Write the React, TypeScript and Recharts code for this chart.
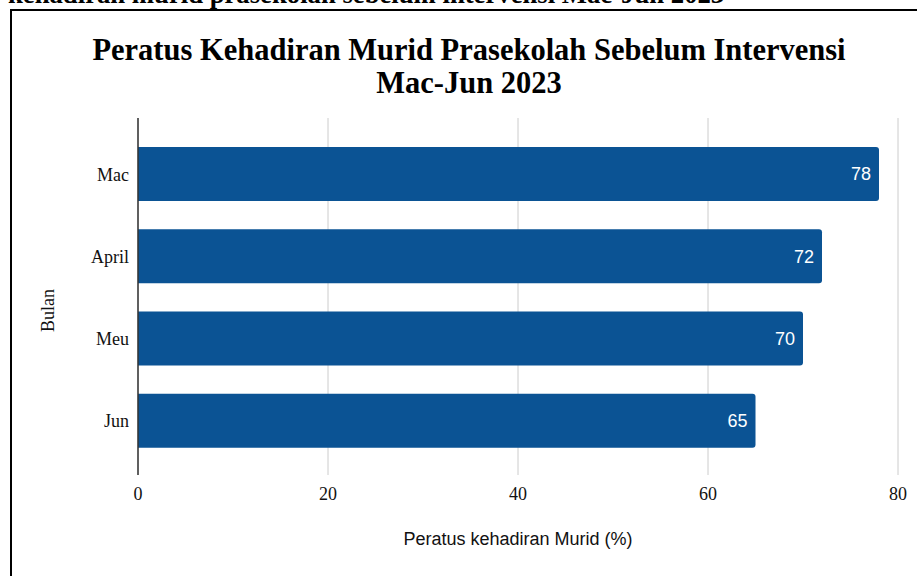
import React from "react"
import { Bar, BarChart, CartesianGrid, Label, LabelList, XAxis, YAxis } from "recharts"

const months = ["Mac", "April", "Meu", "Jun"]
const attendance = [78, 72, 70, 65]
const xTicks = [0, 20, 40, 60, 80]

const data = months.map((month, i) => ({ month, value: attendance[i] }))

const SERIF = "'Liberation Serif', 'Times New Roman', serif"
const SANS = "'Liberation Sans', Arial, sans-serif"

export default function App() {
  return (
    <div style={{ position: "absolute", left: 0, top: 0, width: 917, height: 576, overflow: "hidden", background: "#fff" }}>
      {/* caption cut off at top of the screenshot */}
      <svg width={917} height={20} style={{ position: "absolute", left: 0, top: 0 }}>
        <text x={8} y={3} fontFamily={SERIF} fontWeight="bold" fontSize={26.7} fill="#000">
          kehadiran murid prasekolah sebelum intervensi Mac-Jun 2023
        </text>
      </svg>
      <div
        style={{
          position: "absolute",
          left: 10,
          top: 9,
          width: 940,
          height: 600,
          border: "2px solid #000",
          boxSizing: "border-box",
        }}
      />
      <div
        style={{
          position: "absolute",
          left: 69,
          top: 34,
          width: 800,
          textAlign: "center",
          fontFamily: SERIF,
          fontWeight: "bold",
          fontSize: 30.5,
          lineHeight: "33px",
          color: "#000",
        }}
      >
        Peratus Kehadiran Murid Prasekolah Sebelum Intervensi
        <br />
        Mac-Jun 2023
      </div>
      <div style={{ position: "absolute", left: 0, top: 0 }}>
        <BarChart
          width={917}
          height={576}
          data={data}
          layout="vertical"
          margin={{ top: 118, right: 19, bottom: 31, left: 48 }}
        >
          <CartesianGrid horizontal={false} stroke="#cccccc" />
          <XAxis
            type="number"
            domain={[0, 80]}
            ticks={xTicks}
            axisLine={false}
            tickLine={false}
            tickSize={0}
            tickMargin={12}
            height={70}
            tick={{ fontFamily: SERIF, fontSize: 18, fill: "#111" }}
          >
            <Label
              value="Peratus kehadiran Murid (%)"
              position="insideBottom"
              offset={0}
              style={{ fontFamily: SANS, fontSize: 18, fill: "#111" }}
            />
          </XAxis>
          <YAxis
            type="category"
            dataKey="month"
            width={90}
            padding={{ top: 15, bottom: 13 }}
            axisLine={{ stroke: "#333", strokeWidth: 1.5 }}
            tickLine={false}
            tickSize={0}
            tickMargin={9}
            tick={{ fontFamily: SERIF, fontSize: 18, fill: "#111" }}
          >
            <Label
              content={({ viewBox }: any) => {
                const cx = viewBox.x
                const cy = viewBox.y + viewBox.height / 2 + 14
                return (
                  <text
                    x={cx}
                    y={cy}
                    transform={`rotate(-90 ${cx} ${cy})`}
                    textAnchor="middle"
                    dominantBaseline="central"
                    fontFamily={SERIF}
                    fontSize={18}
                    fill="#111"
                  >
                    Bulan
                  </text>
                )
              }}
            />
          </YAxis>
          <Bar dataKey="value" fill="#0b5394" barSize={54} radius={[0, 3, 3, 0]} isAnimationActive={false}>
            <LabelList
              dataKey="value"
              position="insideRight"
              offset={8}
              fill="#fff"
              style={{ fontFamily: SANS, fontSize: 18 }}
            />
          </Bar>
        </BarChart>
      </div>
    </div>
  )
}
